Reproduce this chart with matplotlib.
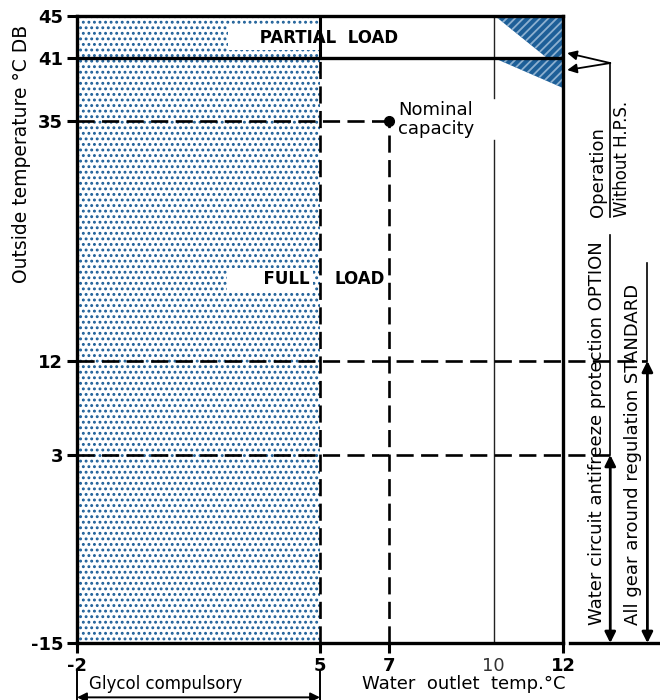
import matplotlib.pyplot as plt
from matplotlib.patches import Rectangle, Polygon

plt.rcParams['font.family'] = 'DejaVu Sans'
plt.rcParams['hatch.linewidth'] = 1.3

# axis ranges and ticks
x_min, x_max = -2, 12
y_min, y_max = -15, 45
x_ticks = [-2, 5, 7, 10, 12]
x_tick_labels = ['-2', '5', '7', '10', '12']
y_ticks = [-15, 3, 12, 35, 41, 45]
y_tick_labels = ['-15', '3', '12', '35', '41', '45']

# operating limits
glycol_limit = 5          # water outlet below this -> glycol
nominal_water = 7
nominal_air = 35
partial_load_limit = 41
option_limit = 3          # antifreeze protection option
standard_limit = 12       # standard regulation
grid_x = 10
grid_gap = [33.1, 37.2]   # where the "capacity" label cuts the 10 line

# H.P.S. hatched zones
hps_upper = [(10.05, 45), (12, 45), (12, 41), (11.55, 41)]
hps_lower = [(10.0, 41), (12, 41), (12, 38.1)]

# right-hand annotations (outside the plot)
hps_x = 13.36
hps_joint = 40.5
hps_tips = [41.46, 39.83]
hps_line_end = 25.8
option_x = 13.36
option_top = 24.0
standard_x = 14.43
standard_top = 21.4

blue = '#1d5f98'
dash = (6.5, 2.8)

fig = plt.figure(figsize=(6.6, 7), dpi=100)
ax = fig.add_axes([0.1167, 0.0814, 0.7364, 0.8957])
ax.set_xlim(x_min, x_max)
ax.set_ylim(y_min, y_max)

# stippled glycol zone
ax.add_patch(Rectangle((x_min, y_min), glycol_limit - x_min, y_max - y_min,
                       facecolor='white', edgecolor=blue, hatch='...',
                       lw=0, zorder=1))

# H.P.S. zones
for pts in [hps_upper, hps_lower]:
    ax.add_patch(Polygon(pts, closed=True, facecolor=blue, edgecolor='#8db0d0',
                         hatch='////', lw=0, zorder=2))

# thin 10 degC line
ax.plot([grid_x, grid_x], [y_min, grid_gap[0]], color='#222222', lw=1.0, zorder=2)
ax.plot([grid_x, grid_x], [grid_gap[1], y_max], color='#222222', lw=1.0, zorder=2)

# partial load line
ax.plot([x_min, x_max], [partial_load_limit] * 2, color='black', lw=2.4, zorder=5)
ax.plot([glycol_limit] * 2, [partial_load_limit, y_max], color='black', lw=2.2, zorder=5)

# dashed limit lines
ax.plot([glycol_limit] * 2, [y_min, partial_load_limit], color='black', lw=1.9,
        dashes=dash, zorder=5)
ax.plot([nominal_water] * 2, [y_min, nominal_air], color='black', lw=1.9,
        dashes=dash, zorder=5)
ax.plot([x_min, nominal_water], [nominal_air] * 2, color='black', lw=1.9,
        dashes=dash, zorder=5)
ax.plot([x_min, standard_x], [standard_limit] * 2, color='black', lw=1.9,
        dashes=dash, zorder=5, clip_on=False)
ax.plot([x_min, option_x], [option_limit] * 2, color='black', lw=1.9,
        dashes=dash, zorder=5, clip_on=False)

# nominal point
ax.plot([nominal_water], [nominal_air], 'o', color='black', ms=7, zorder=6)
ax.text(nominal_water + 0.25, nominal_air + 0.1, 'Nominal\ncapacity',
        ha='left', va='center', fontsize=13, linespacing=1.05, zorder=4)

# region labels with white backgrounds
ax.text(7.25, 42.9, '     PARTIAL  LOAD', ha='right', va='center',
        fontsize=12, fontweight='bold', zorder=3,
        bbox=dict(facecolor='white', edgecolor='none', pad=2))
ax.text(4.71, 19.8, '      FULL', ha='right', va='center',
        fontsize=12, fontweight='bold', zorder=3,
        bbox=dict(facecolor='white', edgecolor='none', pad=2))
ax.text(5.43, 19.8, 'LOAD', ha='left', va='center',
        fontsize=12, fontweight='bold', zorder=3)

# spines and ticks
for s in ax.spines.values():
    s.set_linewidth(2.4)
    s.set_zorder(7)
ax.set_xticks(x_ticks)
ax.set_xticklabels(x_tick_labels)
ax.set_yticks(y_ticks)
ax.set_yticklabels(y_tick_labels)
ax.tick_params(direction='out', length=7, width=2.2, labelsize=13, pad=3)
for lab in ax.get_xticklabels() + ax.get_yticklabels():
    lab.set_fontweight('bold')
i10 = x_ticks.index(grid_x)
ax.get_xticklabels()[i10].set_fontweight('normal')
ax.get_xticklabels()[i10].set_color('#333333')
ax.xaxis.get_major_ticks()[i10].tick1line.set_visible(False)

ax.text(-3.6, 31.8, 'Outside temperature °C DB', rotation=90, ha='center',
        va='center', fontsize=13.5, clip_on=False)

# bottom: glycol arrow and axis title
ax.plot([x_min, x_min], [-17.7, -20.6], color='black', lw=1.4, clip_on=False)
ax.plot([glycol_limit] * 2, [-17.7, -20.6], color='black', lw=1.4, clip_on=False)
ax.annotate('', xy=(glycol_limit, -20.2), xytext=(x_min, -20.2),
            arrowprops=dict(arrowstyle='<|-|>', color='black', lw=1.4,
                            mutation_scale=14, shrinkA=0, shrinkB=0),
            annotation_clip=False)
ax.text(0.54, -18.9, 'Glycol compulsory', ha='center', va='center',
        fontsize=12, clip_on=False)
ax.text(9.15, -18.9, 'Water  outlet  temp.°C', ha='center', va='center',
        fontsize=13, clip_on=False)

# right side: baseline extension
ax.plot([12.2, 14.9], [y_min, y_min], color='black', lw=2.4, clip_on=False)

# operation without H.P.S.
for tip in hps_tips:
    ax.annotate('', xy=(12.12, tip), xytext=(hps_x, hps_joint),
                arrowprops=dict(arrowstyle='-|>', color='black', lw=1.3,
                                mutation_scale=14, shrinkA=0, shrinkB=0),
                annotation_clip=False)
ax.plot([hps_x, hps_x], [hps_joint, hps_line_end], color='black', lw=1.2,
        clip_on=False)
ax.text(hps_x - 0.35, hps_line_end, 'Operation', rotation=90, ha='center',
        va='bottom', fontsize=13, clip_on=False)
ax.text(hps_x + 0.35, hps_line_end, 'Without H.P.S.', rotation=90, ha='center',
        va='bottom', fontsize=12, clip_on=False)

# antifreeze option and standard ranges
for xx, lim, top in [(option_x, option_limit, option_top),
                     (standard_x, standard_limit, standard_top)]:
    ax.annotate('', xy=(xx, lim), xytext=(xx, y_min),
                arrowprops=dict(arrowstyle='<|-|>', color='black', lw=2,
                                mutation_scale=16, shrinkA=0, shrinkB=0),
                annotation_clip=False)
    ax.plot([xx, xx], [lim, top], color='black', lw=1.2, clip_on=False)
ax.text(option_x - 0.37, -13.3, 'Water circuit antifreeze protection OPTION',
        rotation=90, ha='center', va='bottom', fontsize=13, clip_on=False)
ax.text(standard_x - 0.42, -13.3, 'All gear around regulation STANDARD',
        rotation=90, ha='center', va='bottom', fontsize=13, clip_on=False)

fig.savefig('out.png', dpi=100)
